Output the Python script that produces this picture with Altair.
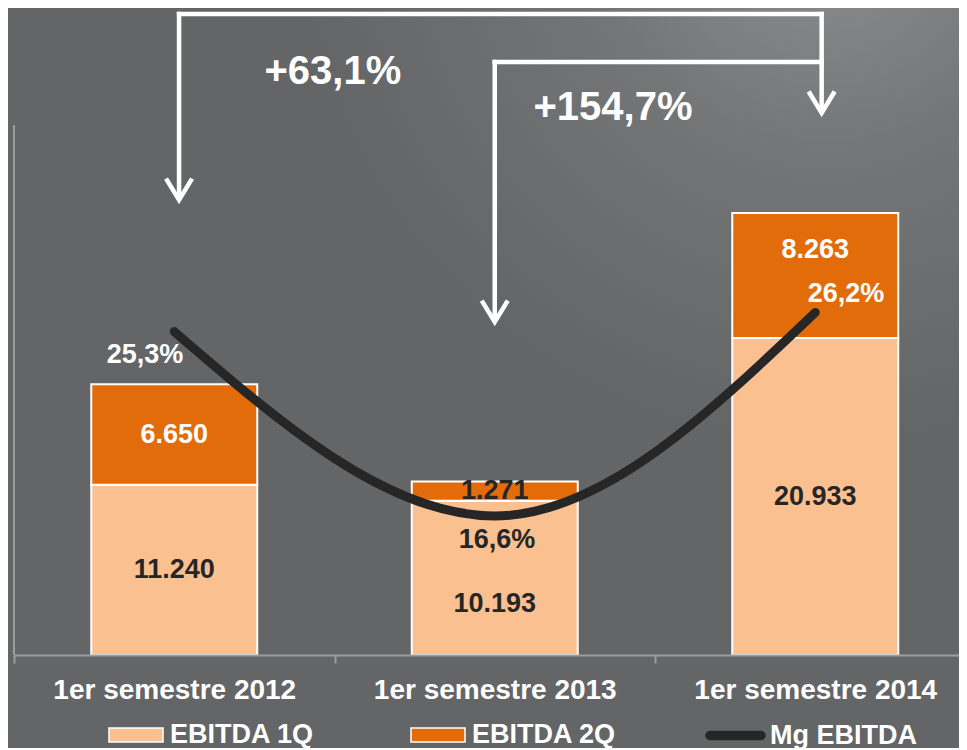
import altair as alt
import pandas as pd

# ---------------- data ----------------
categories = ["1er semestre 2012", "1er semestre 2013", "1er semestre 2014"]
ebitda_1q = [11240, 10193, 20933]
ebitda_2q = [6650, 1271, 8263]
mg_ebitda = [25.3, 16.6, 26.2]
bar_series = ["EBITDA 1Q", "EBITDA 2Q"]
line_series = "Mg EBITDA"

growth_labels = ["+63,1%", "+154,7%"]

# annotation placement (data units)
growth_label_x = [0.495, 1.369]
growth_label_y = [38513, 36135]
bracket_from = [0.015, 1.0]          # left ends of the brackets (category index)
bracket_to = [2.02, 2.02]            # right end (2014)
bracket_top = [42344, 39174]
arrow_tip_x = [0.015, 1.0, 2.02]
arrow_tip_y = [30057, 21998, 35805]
pct_label_x = [-0.091, 1.007, 2.096]
pct_label_y = [24.19, 15.47, 27.07]
label_nudge = {(1, "EBITDA 1Q"): -1718, (2, "EBITDA 2Q"): 1718}

# ---------------- styles ----------------
FONT = "Liberation Sans, Arial, sans-serif"
C1Q = "#FAC090"
C2Q = "#E36C0A"
DARK = "#262626"
BG = "#646567"
AXIS_C = "#9c9d9f"

X_SCALE = alt.Scale(domain=[-0.5, 2.4485], nice=False, zero=False, padding=0)
Y_BAR = alt.Scale(domain=[0, 42740], nice=False, zero=False, padding=0)
Y_PCT = alt.Scale(domain=[10.043, 40.562], nice=False, zero=False, padding=0)


def fmt_int(v):
    return f"{v:,}".replace(",", ".")


def fmt_pct(v):
    return f"{v:.1f}".replace(".", ",") + "%"


label_expr = " : ".join(
    [f"datum.value === {i} ? '{c}'" for i, c in enumerate(categories)]
) + " : ''"

X_AXIS = alt.Axis(values=[-0.5, 0, 0.5, 1, 1.5, 2], labelExpr=label_expr,
                  tickOpacity={"condition": {"test": "datum.value % 1 !== 0", "value": 1}, "value": 0},
                  labelOverlap=False, labelFlush=False, grid=False, title=None, zindex=2,
                  labelLimit=600,
                  domainColor=AXIS_C, domainWidth=2, tickColor=AXIS_C, tickWidth=2,
                  tickSize=8, labelPadding=13, labelFont=FONT, labelFontSize=28,
                  labelFontWeight="bold", labelColor="white")

# ---------------- tables ----------------
rows = []
for i, c in enumerate(categories):
    for s, vals, o in [("EBITDA 1Q", ebitda_1q, 0), ("EBITDA 2Q", ebitda_2q, 1)]:
        rows.append({"idx": i, "cat": c, "series": s, "value": vals[i], "ord": o})
bars_df = pd.DataFrame(rows)

lab_rows = []
for i, c in enumerate(categories):
    base = 0
    for s, vals in [("EBITDA 1Q", ebitda_1q), ("EBITDA 2Q", ebitda_2q)]:
        v = vals[i]
        mid = base + v / 2 + label_nudge.get((i, s), 0)
        col = "white" if (s == "EBITDA 2Q" and v > 2000) else DARK
        lab_rows.append({"idx": i, "ly": mid, "label": fmt_int(v), "tc": col})
        base += v
bar_labels_df = pd.DataFrame(lab_rows)

line_df = pd.DataFrame({"idx": list(range(len(categories))), "mg": mg_ebitda,
                        "name": [line_series] * len(categories)})
pct_df = pd.DataFrame({"idx": pct_label_x, "y": pct_label_y,
                       "label": [fmt_pct(v) for v in mg_ebitda],
                       "tc": ["white", DARK, "white"]})
growth_df = pd.DataFrame({"idx": growth_label_x, "y": growth_label_y, "label": growth_labels})

seg_rows = []
for k in range(len(growth_labels)):
    seg_rows.append({"idx": bracket_from[k], "x2": bracket_to[k], "y": bracket_top[k], "y2": bracket_top[k]})
    tip = arrow_tip_y[k]
    seg_rows.append({"idx": bracket_from[k], "x2": bracket_from[k], "y": bracket_top[k], "y2": tip + 150})
seg_rows.append({"idx": bracket_to[0], "x2": bracket_to[0], "y": bracket_top[0], "y2": arrow_tip_y[2] + 150})
seg_df = pd.DataFrame(seg_rows)
tips_df = pd.DataFrame({"idx": arrow_tip_x, "y": arrow_tip_y})

yaxis_df = pd.DataFrame({"idx": [-0.5], "y": [0], "y2": [35012]})
bg_df = pd.DataFrame({"a": [0]})


def X():
    return alt.X("idx:Q", scale=X_SCALE, axis=X_AXIS, title=None)


# ---------------- layers ----------------
background = alt.Chart(bg_df).mark_rect(
    color=alt.Gradient(
        gradient="radial",
        stops=[alt.GradientStop(color="#8e8f91", offset=0),
               alt.GradientStop(color="#747577", offset=0.45),
               alt.GradientStop(color=BG, offset=1)],
        x1=0.86, y1=0.02, x2=0.86, y2=0.02, r1=0, r2=0.55,
    )
).encode(x=alt.value(-6), x2=alt.value(945), y=alt.value(0), y2=alt.value(740))

bars = alt.Chart(bars_df).mark_bar(size=166, stroke="white", strokeWidth=2).encode(
    x=X(),
    y=alt.Y("value:Q", stack="zero", scale=Y_BAR, axis=None),
    order=alt.Order("ord:Q"),
    color=alt.Color("series:N", scale=alt.Scale(domain=bar_series, range=[C1Q, C2Q]),
                    legend=alt.Legend(orient="none", legendX=94, legendY=699, direction="horizontal",
                                      title=None, padding=0, zindex=2,
                                      symbolType="M-1,-0.26L1,-0.26L1,0.26L-1,0.26Z",
                                      symbolSize=2916, symbolStrokeColor="white",
                                      symbolStrokeWidth=1.5, symbolOpacity=1,
                                      labelFont=FONT, labelFontSize=27, labelFontWeight="bold",
                                      labelColor="white", labelOffset=6, columnPadding=93,
                                      labelLimit=400)),
)

bar_labels = alt.Chart(bar_labels_df).mark_text(
    font=FONT, fontSize=27, fontWeight="bold", baseline="middle", align="center"
).encode(
    x=X(),
    y=alt.Y("ly:Q", scale=Y_BAR, axis=None),
    text="label:N",
    color=alt.Color("tc:N", scale=None),
)

line = alt.Chart(line_df).mark_line(interpolate="monotone", strokeWidth=9, strokeCap="round").encode(
    x=X(),
    y=alt.Y("mg:Q", scale=Y_PCT, axis=None),
    stroke=alt.Stroke("name:N", scale=alt.Scale(domain=[line_series], range=[DARK]),
                      legend=alt.Legend(orient="none", legendX=691, legendY=697, title=None,
                                        padding=0, zindex=2,
                                        symbolType="M-0.85,-0.15L0.85,-0.15A0.15,0.15,0,0,1,0.85,0.15L-0.85,0.15A0.15,0.15,0,0,1,-0.85,-0.15Z",
                                        symbolSize=3600, symbolFillColor=DARK,
                                        symbolStrokeWidth=0.5, symbolOpacity=1,
                                        labelFont=FONT, labelFontSize=27, labelFontWeight="bold",
                                        labelColor="white", labelOffset=4, labelLimit=400)),
)

pct_labels = alt.Chart(pct_df).mark_text(
    font=FONT, fontSize=27, fontWeight="bold", baseline="middle", align="center"
).encode(
    x=X(),
    y=alt.Y("y:Q", scale=Y_PCT, axis=None),
    text="label:N",
    color=alt.Color("tc:N", scale=None),
)

yaxis_line = alt.Chart(yaxis_df).mark_rule(color=AXIS_C, strokeWidth=2).encode(
    x=X(),
    y=alt.Y("y:Q", scale=Y_BAR, axis=None),
    y2="y2:Q",
)

brackets = alt.Chart(seg_df).mark_rule(color="white", strokeWidth=4.5, strokeCap="square").encode(
    x=X(),
    x2="x2:Q",
    y=alt.Y("y:Q", scale=Y_BAR, axis=None),
    y2="y2:Q",
)

tips = alt.Chart(tips_df).mark_point(
    shape="M-1,-1.65L0,0L1,-1.65", size=676, filled=False, stroke="white",
    strokeWidth=4.5, opacity=1, strokeJoin="miter"
).encode(
    x=X(),
    y=alt.Y("y:Q", scale=Y_BAR, axis=None),
)

growth = alt.Chart(growth_df).mark_text(
    font=FONT, fontSize=40, fontWeight="bold", baseline="middle", align="center", color="white"
).encode(
    x=X(),
    y=alt.Y("y:Q", scale=Y_BAR, axis=None),
    text="label:N",
)

chart = alt.layer(
    background, yaxis_line, bars, bar_labels, line, pct_labels, brackets, tips, growth
).resolve_scale(
    y="independent"
).properties(
    width=945, height=647,
    autosize=alt.AutoSizeParams(type="none"),
    padding={"left": 6, "top": 0, "right": 0, "bottom": 93},
    background=BG,
).configure_view(stroke=None)

chart.save("out.html", embed_options={"renderer": "svg", "actions": False})
